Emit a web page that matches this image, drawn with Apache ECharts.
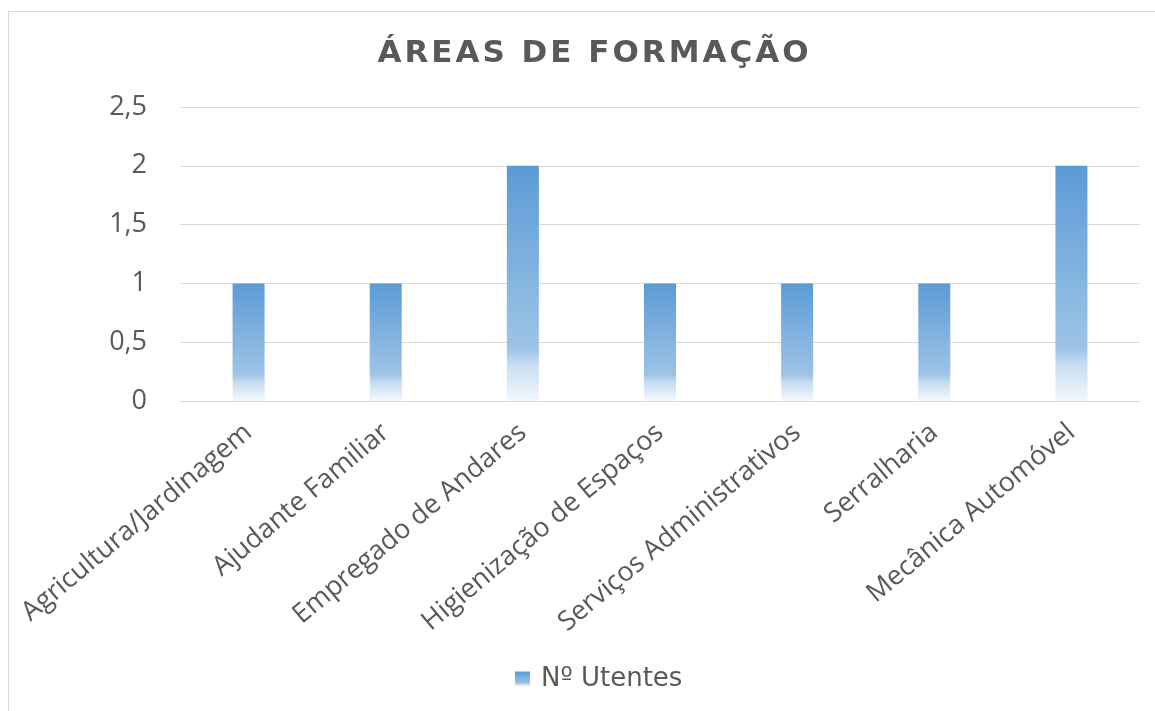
<!DOCTYPE html>
<html>
<head>
<meta charset="utf-8">
<script src="https://cdn.jsdelivr.net/npm/echarts@6/dist/echarts.min.js"></script>
<style>
  html, body { margin: 0; padding: 0; background: #fff; }
  #chart { width: 1155px; height: 711px; }
</style>
</head>
<body>
<div id="chart"></div>
<script>
const categories = [
  "Agricultura/Jardinagem",
  "Ajudante Familiar",
  "Empregado de Andares",
  "Higienização de Espaços",
  "Serviços Administrativos",
  "Serralharia",
  "Mecânica Automóvel"
];
const utentes = [1, 1, 2, 1, 1, 1, 2];
const seriesName = "Nº Utentes";
const titleText = "ÁREAS DE FORMAÇÃO";

const font = "'Open Sans', 'DejaVu Sans', sans-serif";
const wideFont = "'DejaVu Sans', sans-serif";
const textColor = "#595959";

// Excel style gradient: solid blue on top, fading to white at the base
const barFill = new echarts.graphic.LinearGradient(0, 0, 0, 1, [
  { offset: 0, color: "#5b9bd5" },
  { offset: 0.78, color: "#9ec4e7" },
  { offset: 0.84, color: "#c6dcf1" },
  { offset: 1, color: "#f4f8fd" }
]);

// the title is letter spaced, so draw it one letter per rich token
const spacedTitle = titleText.split("").map(c => "{s|" + c + "}").join("");

const chart = echarts.init(document.getElementById("chart"));
chart.setOption({
  animation: false,
  backgroundColor: "#fff",
  graphic: [
    {
      type: "rect",
      shape: { x: 8.5, y: 11.5, width: 1160, height: 720 },
      style: { fill: "none", stroke: "#d9d9d9", lineWidth: 1 },
      silent: true
    }
  ],
  title: {
    text: spacedTitle,
    left: 588,
    textAlign: "center",
    top: 33,
    textStyle: {
      rich: {
        s: {
          fontFamily: wideFont,
          fontSize: 31,
          fontWeight: "bold",
          color: textColor,
          padding: [0, 1.5]
        }
      }
    }
  },
  legend: {
    data: [seriesName],
    bottom: 14,
    left: 510,
    icon: "rect",
    itemWidth: 15,
    itemHeight: 15,
    textStyle: {
      fontFamily: wideFont,
      fontSize: 26,
      color: textColor,
      padding: [0, 0, 0, 6]
    }
  },
  grid: { left: 180, right: 15, top: 107, bottom: 310 },
  xAxis: {
    type: "category",
    data: categories,
    axisTick: { show: false },
    axisLine: { lineStyle: { color: "#d9d9d9", width: 1 } },
    axisLabel: {
      rotate: 40,
      interval: 0,
      margin: 28,
      fontFamily: font,
      fontSize: 27,
      color: textColor
    }
  },
  yAxis: {
    type: "value",
    min: 0,
    max: 2.5,
    interval: 0.5,
    axisLine: { show: false },
    axisTick: { show: false },
    splitLine: { lineStyle: { color: "#d9d9d9", width: 1 } },
    axisLabel: {
      margin: 33,
      fontFamily: font,
      fontSize: 27,
      color: textColor,
      formatter: v => String(v).replace(".", ",")
    }
  },
  series: [
    {
      name: seriesName,
      type: "bar",
      data: utentes,
      barWidth: 32,
      itemStyle: { color: barFill }
    }
  ]
});
</script>
</body>
</html>
